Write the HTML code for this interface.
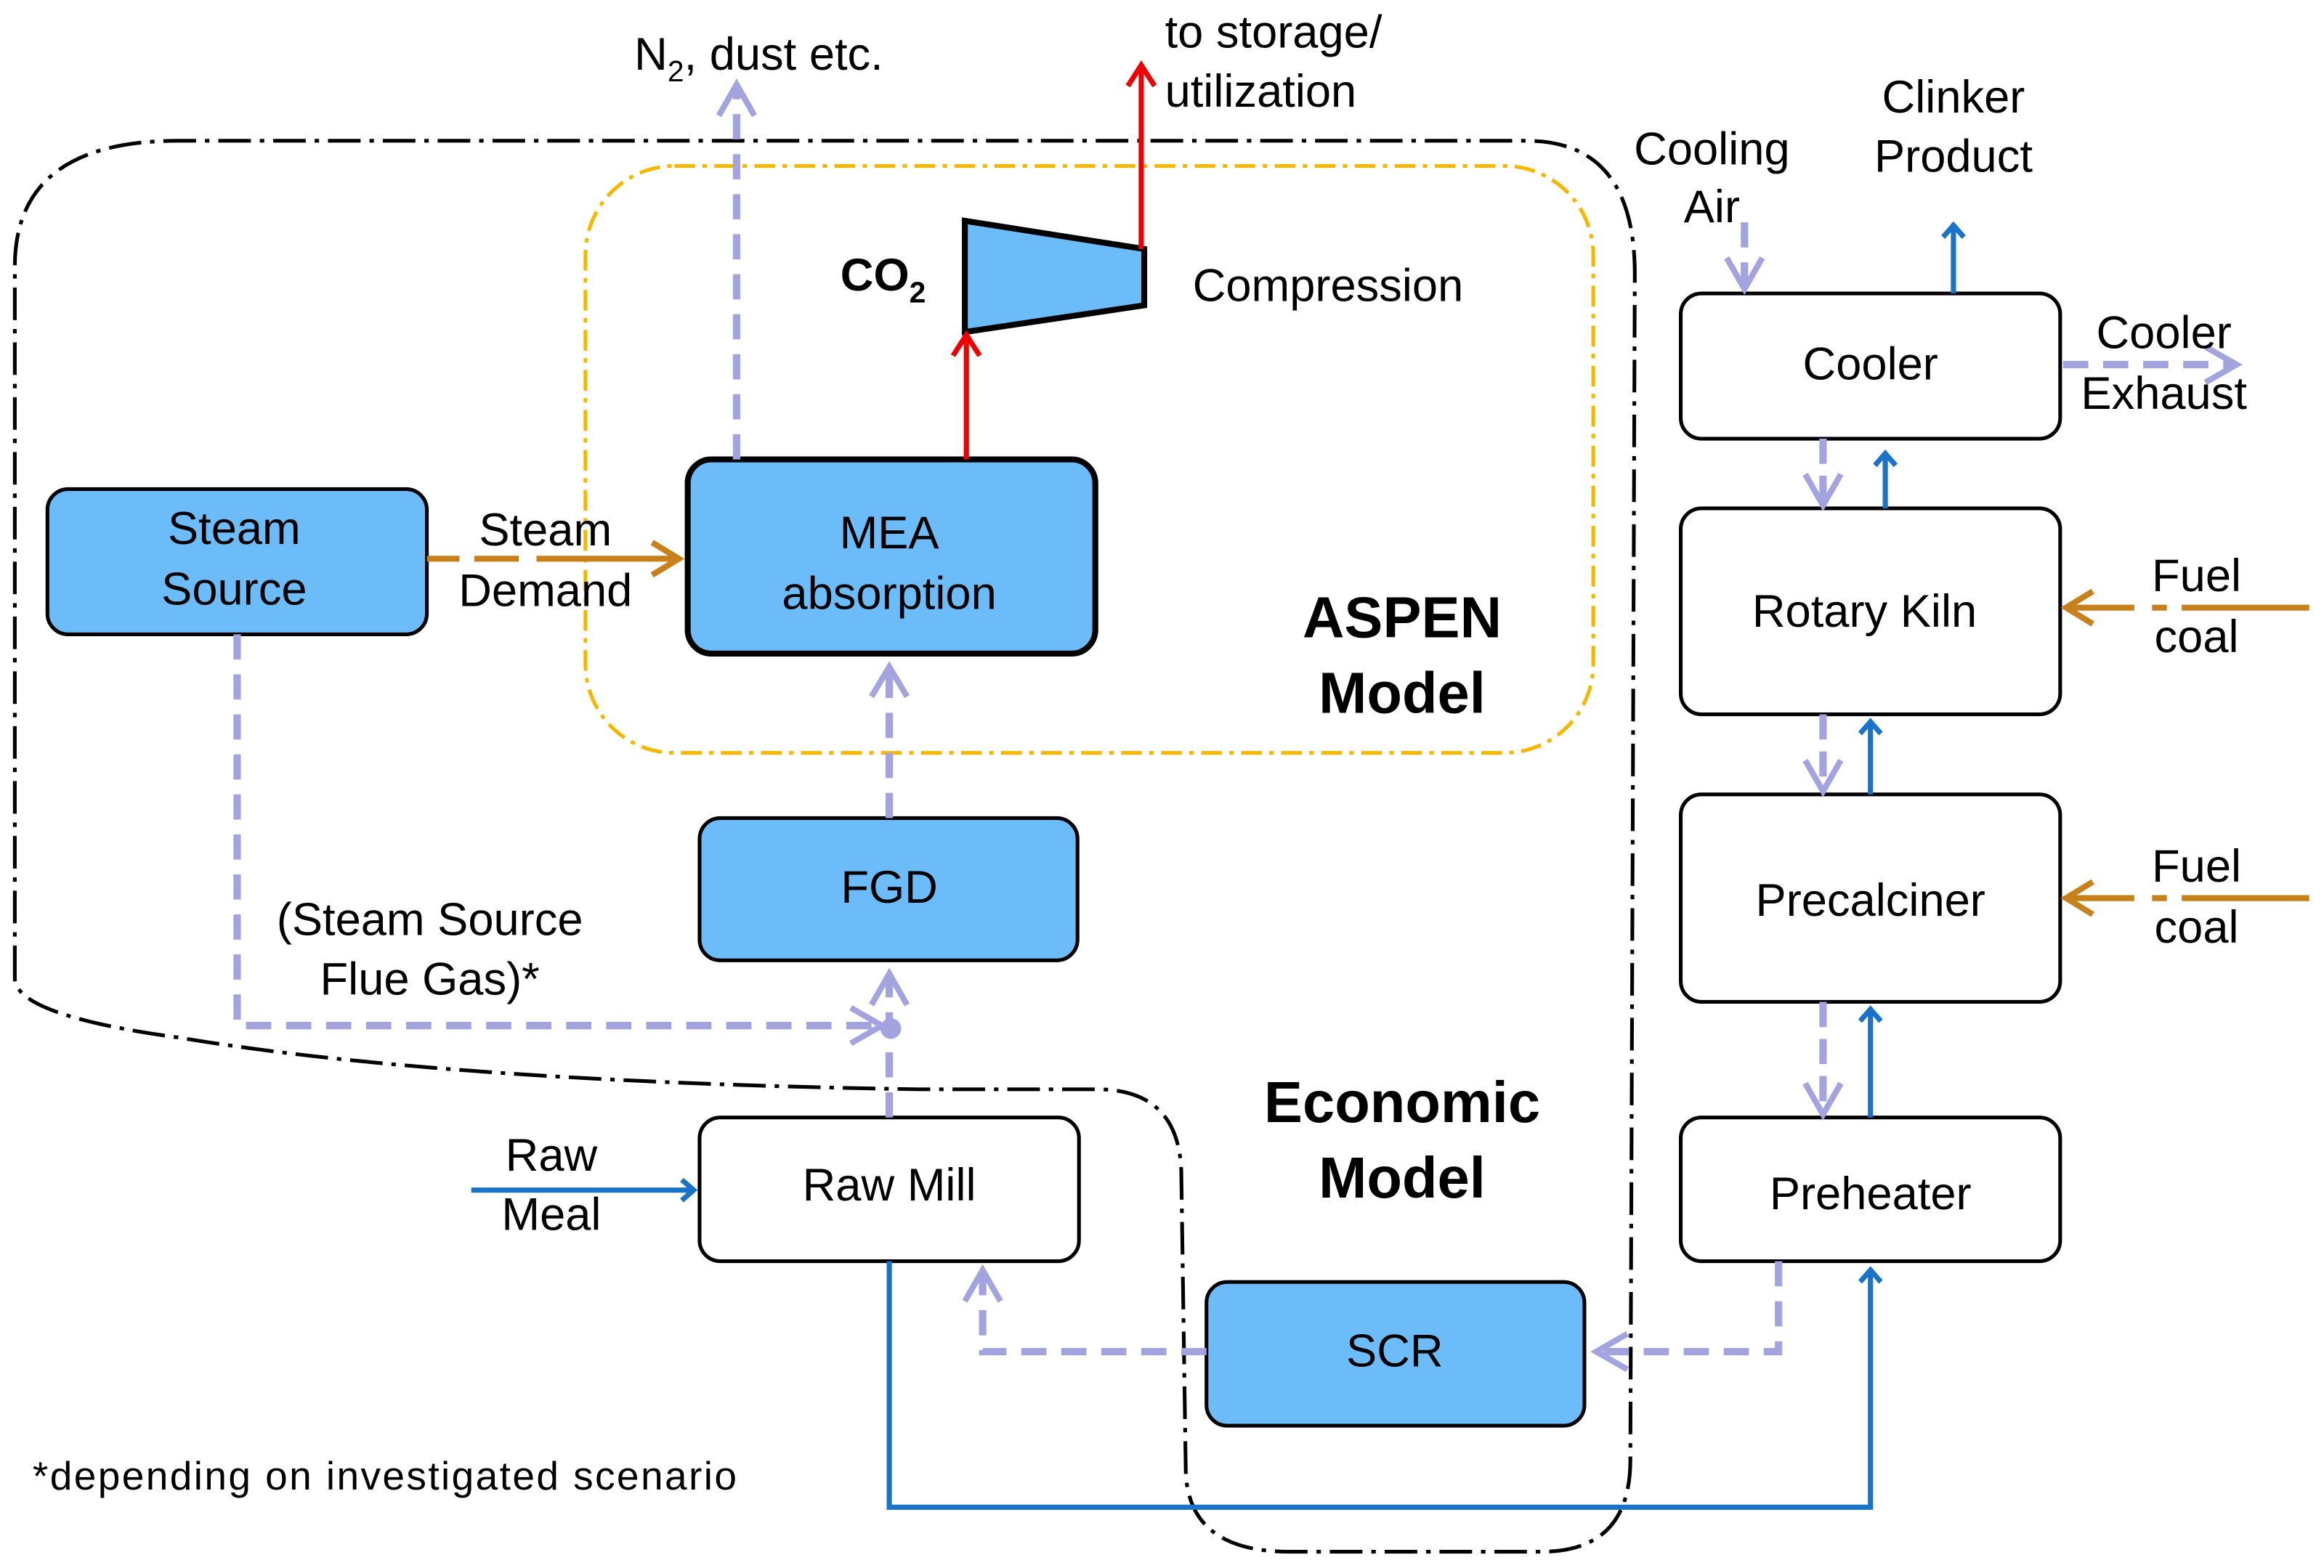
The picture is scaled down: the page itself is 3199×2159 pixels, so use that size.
<!DOCTYPE html>
<html><head><meta charset="utf-8"><style>
html,body{margin:0;padding:0;background:#fff;}
svg{display:block;}
text{font-family:"Liberation Sans",Arial,sans-serif;fill:#000;}
</style></head><body>
<svg width="3199" height="2159" viewBox="0 0 1568 1058" preserveAspectRatio="none" xmlns="http://www.w3.org/2000/svg">
<defs>
<marker id="ab" markerWidth="20" markerHeight="20" refX="10" refY="8" orient="auto" markerUnits="userSpaceOnUse"><path d="M2,1 L10,8 L2,15" fill="none" stroke="#1a73c8" stroke-width="3.5"/></marker>
</defs>
<g fill="none">
<path d="M10,660 L10,180 Q10,95 120,95 L1030,95 Q1103,95 1103,185 L1100,985 Q1100,1047 1040,1047 L870,1047 Q800,1047 800,990 L797,790 Q795,735 740,735 L620,735 Q300,730 120,700 Q10,685 10,660 Z" stroke="#000" stroke-width="2.5" stroke-dasharray="22,6,3,6"/>
<rect x="395" y="112" width="680" height="396" rx="60" stroke="#f5b800" stroke-width="2.5" stroke-dasharray="14,5,3,5"/>
</g>
<g stroke="#000" stroke-width="2.5">
<rect x="32" y="330" width="256" height="98" rx="14" fill="#6cbcfa"/>
<rect x="464" y="310" width="275" height="131" rx="16" fill="#6cbcfa" stroke-width="4"/>
<rect x="472" y="552" width="255" height="96" rx="14" fill="#6cbcfa"/>
<rect x="472" y="754" width="256" height="97" rx="14" fill="#fff"/>
<rect x="814" y="865" width="255" height="97" rx="14" fill="#6cbcfa"/>
<rect x="1134" y="198" width="256" height="98" rx="14" fill="#fff"/>
<rect x="1134" y="343" width="256" height="139" rx="14" fill="#fff"/>
<rect x="1134" y="536" width="256" height="140" rx="14" fill="#fff"/>
<rect x="1134" y="754" width="256" height="97" rx="14" fill="#fff"/>
<polygon points="651,149 772,168 772,206 651,224" fill="#6cbcfa" stroke-width="4"/>
</g>
<g fill="none" stroke="#a3a3e0" stroke-width="5">
<path d="M160,428 L160,692 L598,692" stroke-dasharray="17,10"/>
<path d="M574,680 L595,692 L574,704" stroke-width="4"/>
<path d="M600,754 L600,660" stroke-dasharray="17,10"/>
<path d="M588,678 L600,657 L612,678" stroke-width="4"/>
<path d="M600,552 L600,452" stroke-dasharray="17,10"/>
<path d="M588,470 L600,450 L612,470" stroke-width="4"/>
<path d="M497,310 L497,58" stroke-dasharray="17,10"/>
<path d="M485,78 L497,57 L509,78" stroke-width="4"/>
<path d="M814,912 L663,912 L663,858" stroke-dasharray="17,10"/>
<path d="M651,878 L663,857 L675,878" stroke-width="4"/>
<path d="M1200,851 L1200,912 L1078,912" stroke-dasharray="17,10"/>
<path d="M1098,900 L1077,912 L1098,924" stroke-width="4"/>
<path d="M1392,246 L1508,246" stroke-dasharray="17,10"/>
<path d="M1488,234 L1509,246 L1488,258" stroke-width="4"/>
<path d="M1177,150 L1177,194" stroke-dasharray="17,10"/>
<path d="M1165,174 L1177,195 L1189,174" stroke-width="4"/>
<path d="M1230,296 L1230,340" stroke-dasharray="17,8"/>
<path d="M1218,320 L1230,341 L1242,320" stroke-width="4"/>
<path d="M1230,482 L1230,533" stroke-dasharray="17,8"/>
<path d="M1218,513 L1230,534 L1242,513" stroke-width="4"/>
<path d="M1230,676 L1230,751" stroke-dasharray="17,8"/>
<path d="M1218,731 L1230,752 L1242,731" stroke-width="4"/>
</g>
<circle cx="601" cy="694" r="7" fill="#a3a3e0"/>
<g fill="none" stroke="#1a73c8" stroke-width="3.5">
<path d="M318,803 L468,803" marker-end="url(#ab)"/>
<path d="M600,851 L600,1017 L1262,1017 L1262,857" marker-end="url(#ab)"/>
<path d="M1318,198 L1318,152" marker-end="url(#ab)"/>
<path d="M1272,343 L1272,306" marker-end="url(#ab)"/>
<path d="M1262,536 L1262,487" marker-end="url(#ab)"/>
<path d="M1262,754 L1262,681" marker-end="url(#ab)"/>
</g>
<g fill="none" stroke="#ee0000" stroke-width="3.5">
<path d="M652,310 L652,227"/><path d="M643,240 L652,226 L661,240"/>
<path d="M770,168 L770,45"/><path d="M761,58 L770,44 L779,58"/>
</g>
<g fill="none" stroke="#c8801a" stroke-width="4">
<path d="M288,377 L310,377 M320,377 L350,377 M362,377 L456,377"/>
<path d="M440,366 L458,377 L440,388"/>
<path d="M1558,410 L1472,410 M1462,410 L1452,410 M1440,410 L1396,410"/>
<path d="M1412,399 L1394,410 L1412,421"/>
<path d="M1558,606 L1472,606 M1462,606 L1452,606 M1440,606 L1396,606"/>
<path d="M1412,595 L1394,606 L1412,617"/>
</g>
<g font-size="31" text-anchor="middle">
<text x="158" y="367">Steam</text><text x="158" y="408">Source</text>
<text x="368" y="368">Steam</text><text x="368" y="409">Demand</text>
<text x="600" y="370">MEA</text><text x="600" y="411">absorption</text>
<text x="600" y="609">FGD</text>
<text x="600" y="810">Raw Mill</text>
<text x="941" y="922">SCR</text>
<text x="1262" y="256">Cooler</text>
<text x="1258" y="423">Rotary Kiln</text>
<text x="1262" y="618">Precalciner</text>
<text x="1262" y="816">Preheater</text>
<text x="290" y="631">(Steam Source</text><text x="290" y="671">Flue Gas)*</text>
<text x="372" y="790">Raw</text><text x="372" y="830">Meal</text>
<text x="1155" y="111">Cooling</text><text x="1155" y="150">Air</text>
<text x="1318" y="76">Clinker</text><text x="1318" y="116">Product</text>
<text x="1460" y="235">Cooler</text><text x="1460" y="276">Exhaust</text>
<text x="1482" y="399">Fuel</text><text x="1482" y="440">coal</text>
<text x="1482" y="595">Fuel</text><text x="1482" y="636">coal</text>
<text x="896" y="203">Compression</text>
<text x="946" y="430" font-size="39" font-weight="bold">ASPEN</text>
<text x="946" y="481" font-size="39" font-weight="bold">Model</text>
<text x="946" y="757" font-size="39" font-weight="bold">Economic</text>
<text x="946" y="808" font-size="39" font-weight="bold">Model</text>
</g>
<g font-size="31">
<text x="786" y="32">to storage/</text>
<text x="786" y="72">utilization</text>
<text x="428" y="47">N<tspan font-size="20" dy="8">2</tspan><tspan dy="-8">, dust etc.</tspan></text>
<text x="567" y="196" font-weight="bold">CO<tspan font-size="20" dy="8">2</tspan></text>
<text x="22" y="1005" font-size="27" textLength="475">*depending on investigated scenario</text>
</g>
</svg>
</body></html>
